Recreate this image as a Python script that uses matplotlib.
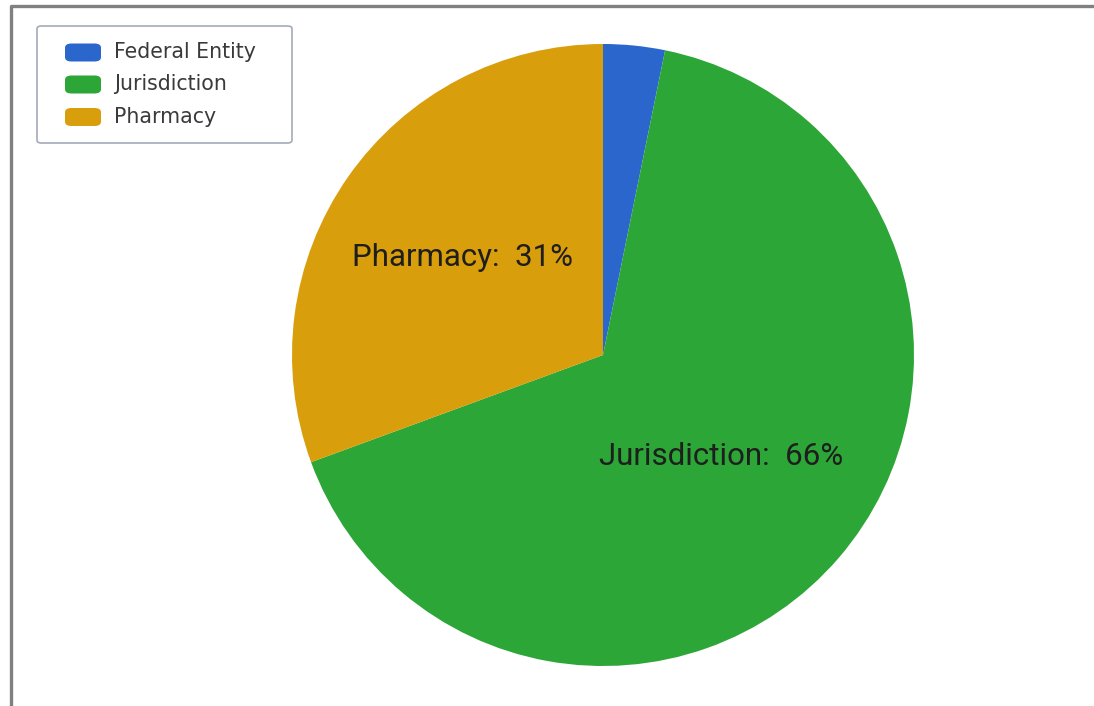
import matplotlib.pyplot as plt
import numpy as np
from matplotlib.patches import FancyBboxPatch
from matplotlib.lines import Line2D

labels = ['Federal Entity', 'Jurisdiction', 'Pharmacy']
values = [3.2, 66.2, 30.6]
colors = ['#2b66cc', '#2ca636', '#d99e0b']
shown = ['', 'Jurisdiction:  66%', 'Pharmacy:  31%']
label_r = [0.5, 0.5, 0.55]

W, H = 1094, 706
fig = plt.figure(figsize=(W / 100, H / 100), dpi=100)
fig.patch.set_facecolor('white')


def px(x, y):
    # pixel position (from top-left) to figure fraction
    return x / W, 1 - y / H


# outer frame (only top and left visible)
fig.add_artist(Line2D([11 / W, 11 / W, 1.0], [0.0, 1 - 5.5 / H, 1 - 5.5 / H],
                      transform=fig.transFigure, color='#808080', lw=2.4))

cx, cy, r = 603, 355, 311
ax = fig.add_axes([(cx - r) / W, (H - cy - r) / H, 2 * r / W, 2 * r / H])
wedges, _ = ax.pie(values, colors=colors, startangle=90, counterclock=False,
                   radius=1.0, wedgeprops=dict(linewidth=0))
ax.set_xlim(-1, 1)
ax.set_ylim(-1, 1)
ax.set_aspect('equal')
ax.axis('off')

for w, txt, lr in zip(wedges, shown, label_r):
    if not txt:
        continue
    mid = np.deg2rad((w.theta1 + w.theta2) / 2)
    ax.text(lr * np.cos(mid), lr * np.sin(mid), txt, ha='center', va='center',
            fontsize=22.5, color='#1e1e1e', family='Roboto')

# legend box drawn by hand
x0, y0 = px(37, 143)
x1, y1 = px(292, 26)
fig.add_artist(FancyBboxPatch((x0, y0), x1 - x0, y1 - y0,
                              boxstyle='round,pad=0,rounding_size=0.004',
                              transform=fig.transFigure, facecolor='white',
                              edgecolor='#a3abb8', lw=1.2))
rows = [52.5, 84.5, 117]
for lab, c, ry in zip(labels, colors, rows):
    hx, hy = px(65, ry + 9)
    fig.add_artist(FancyBboxPatch((hx, hy), 36 / W, 18 / H,
                                  boxstyle='round,pad=0,rounding_size=0.006',
                                  transform=fig.transFigure, facecolor=c,
                                  edgecolor='none'))
    tx, ty = px(114, ry)
    fig.text(tx, ty, lab, ha='left', va='center', fontsize=14.8,
             family='DejaVu Sans', color='#3a3a3a')

fig.savefig('out.png', dpi=100)
